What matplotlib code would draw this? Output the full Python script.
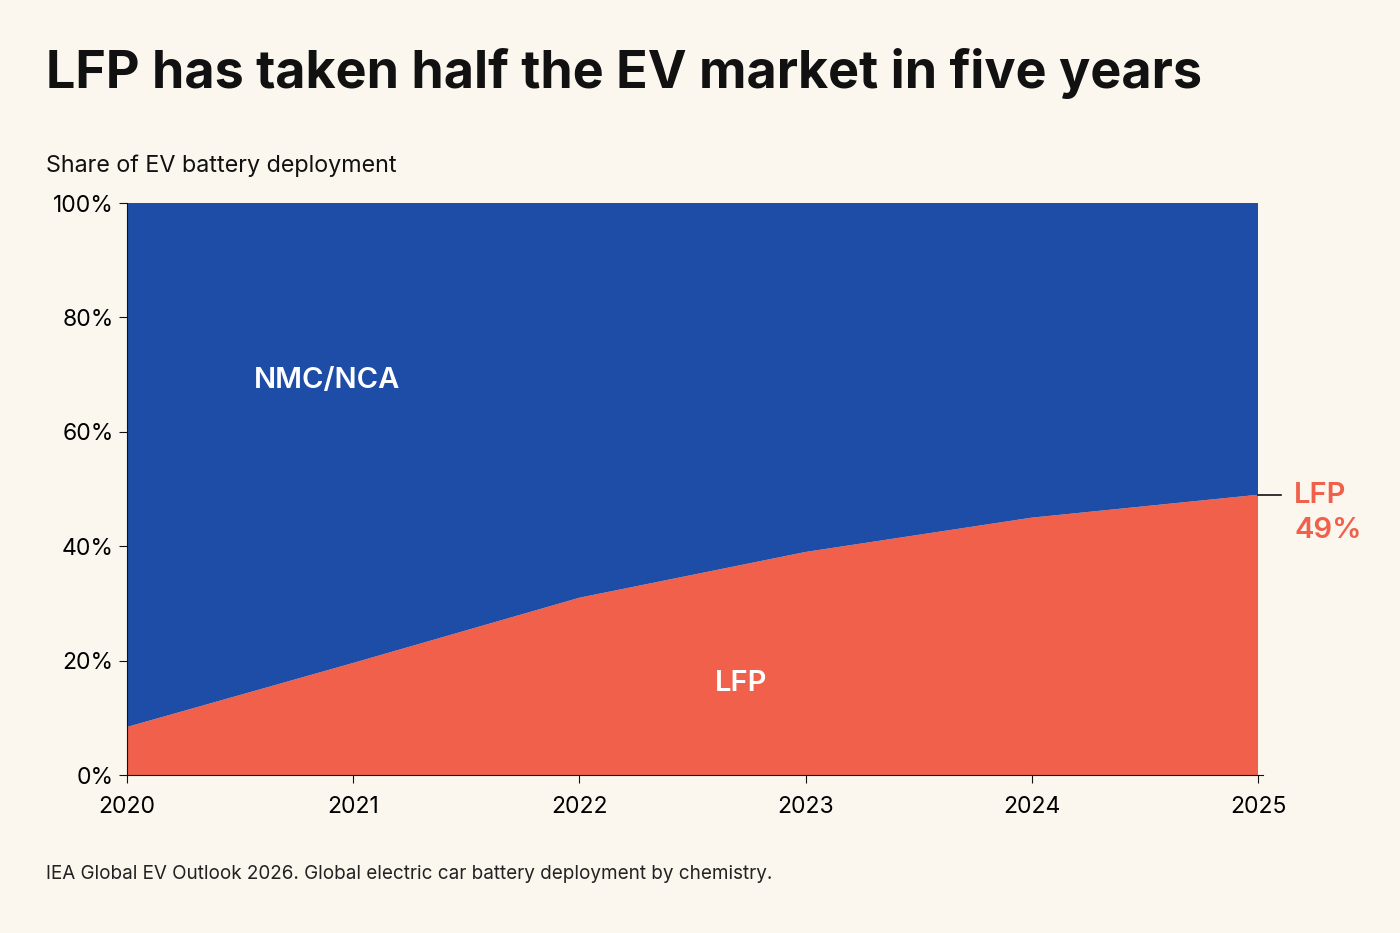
import matplotlib
matplotlib.use("Agg")
import matplotlib.pyplot as plt

years = [2020, 2021, 2022, 2023, 2024, 2025]
lfp = [8.4, 19.6, 31, 39, 45, 49]
nmc = [100 - v for v in lfp]
yticks = [0, 20, 40, 60, 80, 100]

bg = "#FBF7EE"
blue = "#1E4DA8"
red = "#F0604A"
plt.rcParams['font.family'] = ['Inter', 'DejaVu Sans']

fig = plt.figure(figsize=(14, 9.33), dpi=100, facecolor=bg)
ax = fig.add_axes([0.0907, 0.1693, 0.8079, 0.6131])
ax.set_facecolor(bg)
ax.stackplot(years, lfp, nmc, colors=[red, blue], linewidth=0)
ax.set_xlim(2020, 2025)
ax.set_ylim(0, 100)
ax.set_xticks(years)
ax.set_yticks(yticks)
ax.set_yticklabels([f"{t}%" for t in yticks])
ax.tick_params(labelsize=16.5, length=6, color="#111")
ax.tick_params(axis="x", pad=9)
for s in ["top", "right"]:
    ax.spines[s].set_visible(False)
for s in ["left", "bottom"]:
    ax.spines[s].set_color("#111")
ax.spines["bottom"].set_bounds(2020, 2025.02)

ax.text(2020.56, 69, "NMC/NCA", color="white", fontsize=21, fontweight="semibold", va="center")
ax.text(2022.6, 16, "LFP", color="white", fontsize=21, fontweight="semibold", va="center")
ax.plot([2025, 2025.1], [lfp[-1], lfp[-1]], color="#111", lw=1.2, clip_on=False)
ax.text(2025.16, lfp[-1] - 3.2, f"LFP\n{lfp[-1]}%", color=red, fontsize=21, fontweight="semibold",
        va="center", ha="left", linespacing=1.35)

fig.text(0.033, 0.921, "LFP has taken half the EV market in five years", fontsize=37.5,
         fontweight="bold", color="#111", va="center")
fig.text(0.033, 0.822, "Share of EV battery deployment", fontsize=16.8, color="#111", va="center")
fig.text(0.033, 0.063, "IEA Global EV Outlook 2026. Global electric car battery deployment by chemistry.",
         fontsize=13.6, color="#222", va="center")
fig.savefig("out.png", facecolor=bg)
